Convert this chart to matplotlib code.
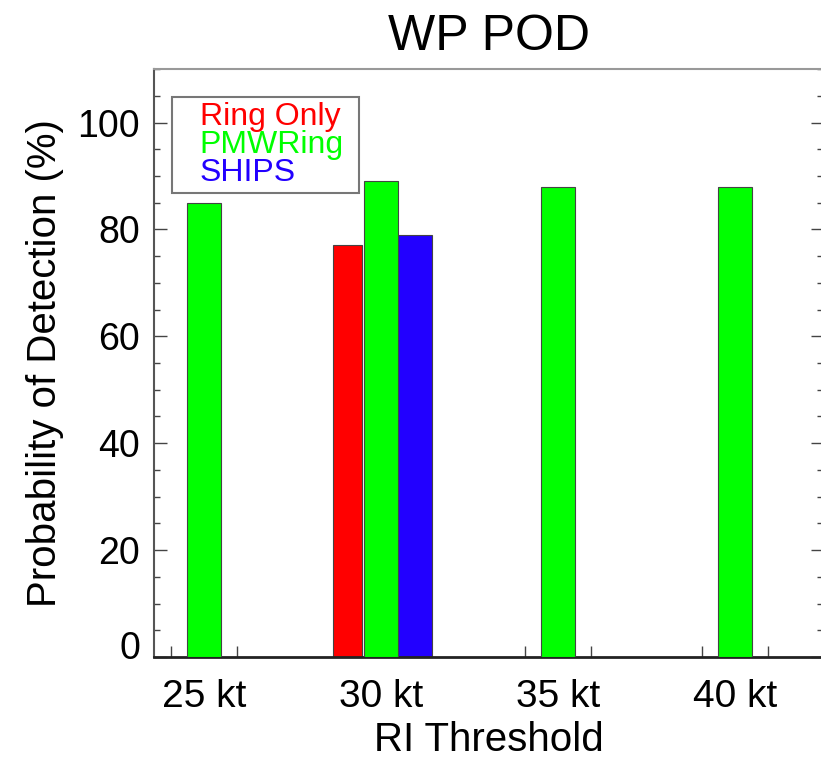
import matplotlib.pyplot as plt
from matplotlib.patches import Rectangle
from matplotlib.ticker import MultipleLocator, FixedLocator
import matplotlib.transforms as mtransforms

plt.rcParams['font.family'] = ['Liberation Sans', 'DejaVu Sans']

# RI thresholds (kt) and probability of detection (%)
thresholds = [25, 30, 35, 40]
tick_labels = ['25 kt', '30 kt', '35 kt', '40 kt']
ring_x = [30]
ring_only = [77]
pmwring = [85, 89, 88, 88]
ships_x = [30]
ships = [79]

red = '#ff0000'
green = '#00ff00'
blue = '#2200ff'

fig = plt.figure(figsize=(8.21, 7.58), dpi=100)
ax = fig.add_axes([0.1876, 0.1332, 0.8154, 0.7757])

w = 0.95
ax.bar([x - w for x in ring_x], ring_only, width=w * 0.85, color=red,
       edgecolor='#444444', linewidth=0.8, align='center', zorder=2)
ax.bar(thresholds, pmwring, width=w, color=green,
       edgecolor='#444444', linewidth=0.8, zorder=3)
ax.bar([x + w for x in ships_x], ships, width=w, color=blue,
       edgecolor='#444444', linewidth=0.8, zorder=2)

ax.set_xlim(23.58, 42.5)
ax.set_ylim(0, 110)

ax.set_xticks(thresholds)
ax.set_xticklabels(tick_labels)
ax.xaxis.set_minor_locator(FixedLocator(
    [t + d for t in thresholds for d in (-0.93, 0.93)]))
ax.yaxis.set_major_locator(FixedLocator([0, 20, 40, 60, 80, 100]))
ax.yaxis.set_minor_locator(MultipleLocator(5))

ax.tick_params(axis='x', which='both', direction='in', length=8, width=1,
               color='#444444', labelsize=28, pad=16, top=False)
ax.tick_params(axis='y', which='major', direction='in', length=9, width=1,
               color='#444444', labelsize=27, pad=10, right=True)
ax.tick_params(axis='y', which='minor', direction='in', length=4.5, width=1,
               color='#444444', right=True)

# nudge the zero label up off the x axis
zero = ax.get_yticklabels()[0]
zero.set_transform(zero.get_transform() +
                   mtransforms.ScaledTranslation(0, 12 / 100, fig.dpi_scale_trans))

for side in ('top', 'right'):
    ax.spines[side].set_color('#999999')
    ax.spines[side].set_linewidth(1.5)
ax.spines['left'].set_color('#555555')
ax.spines['left'].set_linewidth(1.5)
ax.spines['bottom'].set_color('#222222')
ax.spines['bottom'].set_linewidth(2)

ax.set_title('WP POD', fontsize=36, pad=14)
ax.set_xlabel('RI Threshold', fontsize=29, labelpad=4)
ax.set_ylabel('Probability of Detection (%)', fontsize=29, labelpad=10)

# legend box with coloured labels
ax.add_patch(Rectangle((0.0275, 0.789), 0.278, 0.163, transform=ax.transAxes,
                       facecolor='white', edgecolor='#777777', linewidth=1.5,
                       zorder=4))
for i, (name, col) in enumerate([('Ring Only', red), ('PMWRing', green),
                                 ('SHIPS', blue)]):
    ax.text(0.068, 0.919 - i * 0.0478, name, color=col, fontsize=23,
            transform=ax.transAxes, va='center', ha='left', zorder=5)

fig.savefig('out.png', dpi=100)
